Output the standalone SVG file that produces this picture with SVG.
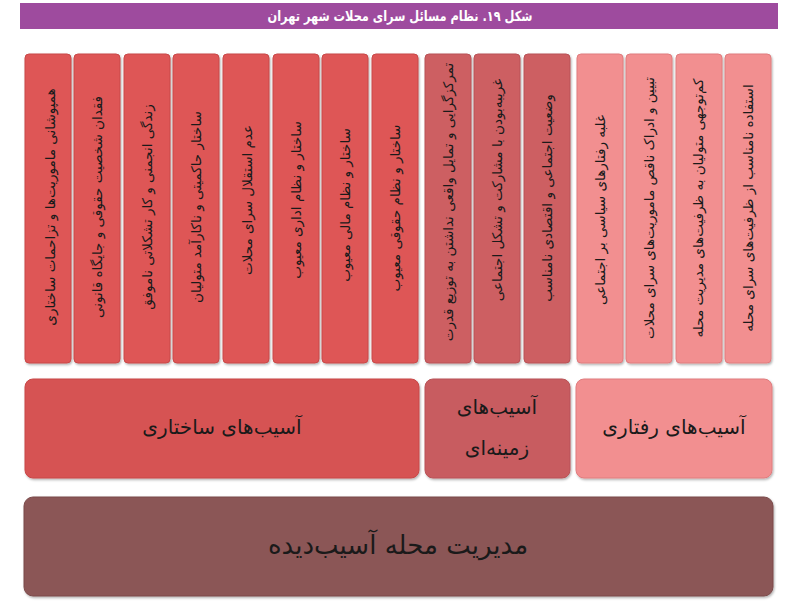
<svg xmlns="http://www.w3.org/2000/svg" width="794" height="612" viewBox="0 0 794 612">
<style>
.t{font-family:"DejaVu Sans","Noto Sans",sans-serif;fill:#1a1a1a;direction:rtl;text-anchor:middle;dominant-baseline:central}
.col{font-size:13.5px}
.big{font-size:20px}
.s{fill:#de5656;stroke:#c84848;stroke-width:1}
.c{fill:#cd5e62;stroke:#b85357;stroke-width:1}
.b{fill:#f28f90;stroke:#e07c7e;stroke-width:1}
</style>
<defs>
<filter id="sh" x="-10%" y="-10%" width="120%" height="120%">
<feDropShadow dx="1" dy="1.5" stdDeviation="1.2" flood-color="#000" flood-opacity="0.3"/>
</filter>
</defs>
<g id="title">
<rect x="20" y="3" width="758" height="26" fill="#9e4b9e"/>
<text x="400" y="16" textLength="265" lengthAdjust="spacingAndGlyphs" style="font-family:'DejaVu Sans',sans-serif;font-size:14px;font-weight:bold;fill:#fff;direction:rtl;text-anchor:middle;dominant-baseline:central">شکل ۱۹. نظام مسائل سرای محلات شهر تهران</text>
</g>

<g id="col1"><rect class="s" x="25" y="54" width="46" height="309" rx="4" filter="url(#sh)"/><text class="t col" transform="translate(50,207) rotate(-90)">همپوشانی ماموریت‌ها و تزاحمات ساختاری</text></g>
<g id="col2"><rect class="s" x="74" y="54" width="46" height="309" rx="4" filter="url(#sh)"/><text class="t col" transform="translate(97,207) rotate(-90)">فقدان شخصیت حقوقی و جایگاه قانونی</text></g>
<g id="col3"><rect class="s" x="124" y="54" width="46" height="309" rx="4" filter="url(#sh)"/><text class="t col" transform="translate(147,207) rotate(-90)">زندگی انجمنی و کار تشکلاتی ناموفق</text></g>
<g id="col4"><rect class="s" x="173" y="54" width="46" height="309" rx="4" filter="url(#sh)"/><text class="t col" transform="translate(196,207) rotate(-90)">ساختار حاکمیتی و ناکارآمد متولیان</text></g>
<g id="col5"><rect class="s" x="223" y="54" width="46" height="309" rx="4" filter="url(#sh)"/><text class="t col" transform="translate(247,200) rotate(-90)">عدم استقلال سرای محلات</text></g>
<g id="col6"><rect class="s" x="273" y="54" width="46" height="309" rx="4" filter="url(#sh)"/><text class="t col" transform="translate(296,200) rotate(-90)">ساختار و نظام اداری معیوب</text></g>
<g id="col7"><rect class="s" x="322" y="54" width="46" height="309" rx="4" filter="url(#sh)"/><text class="t col" transform="translate(345,205) rotate(-90)">ساختار و نظام مالی معیوب</text></g>
<g id="col8"><rect class="s" x="372" y="54" width="46" height="309" rx="4" filter="url(#sh)"/><text class="t col" transform="translate(395,208) rotate(-90)">ساختار و نظام حقوقی معیوب</text></g>

<g id="col9"><rect class="c" x="425" y="54" width="46" height="309" rx="4" filter="url(#sh)"/><text class="t col" transform="translate(448,202) rotate(-90)">تمرکزگرایی و تمایل واقعی نداشتن به توزیع قدرت</text></g>
<g id="col10"><rect class="c" x="474" y="54" width="46" height="309" rx="4" filter="url(#sh)"/><text class="t col" transform="translate(497,190) rotate(-90)">غریبه‌بودن با مشارکت و تشکل اجتماعی</text></g>
<g id="col11"><rect class="c" x="524" y="54" width="46" height="309" rx="4" filter="url(#sh)"/><text class="t col" transform="translate(547,198) rotate(-90)">وضعیت اجتماعی و اقتصادی نامناسب</text></g>

<g id="col12"><rect class="b" x="577" y="54" width="46" height="309" rx="4" filter="url(#sh)"/><text class="t col" transform="translate(600,210) rotate(-90)">غلبه رفتارهای سیاسی بر اجتماعی</text></g>
<g id="col13"><rect class="b" x="626" y="54" width="46" height="309" rx="4" filter="url(#sh)"/><text class="t col" transform="translate(649,208) rotate(-90)">تبیین و ادراک ناقص ماموریت‌های سرای محلات</text></g>
<g id="col14"><rect class="b" x="676" y="54" width="46" height="309" rx="4" filter="url(#sh)"/><text class="t col" transform="translate(698,208) rotate(-90)">کم‌توجهی متولیان به ظرفیت‌های مدیریت محله</text></g>
<g id="col15"><rect class="b" x="725" y="54" width="46" height="309" rx="4" filter="url(#sh)"/><text class="t col" transform="translate(748,208) rotate(-90)">استفاده نامناسب از ظرفیت‌های سرای محله</text></g>

<g id="structural"><rect class="s" x="25" y="379" width="394" height="99" rx="8" style="fill:#d65252" filter="url(#sh)"/><text class="t big" x="222" y="427">آسیب‌های ساختاری</text></g>
<g id="contextual"><rect class="c" x="425" y="379" width="145" height="99" rx="8" style="fill:#c85c60" filter="url(#sh)"/><text class="t big" x="497" y="407">آسیب‌های</text><text class="t big" x="497" y="448">زمینه‌ای</text></g>
<g id="behavioral"><rect class="b" x="576" y="379" width="196" height="99" rx="8" filter="url(#sh)"/><text class="t big" x="674" y="427">آسیب‌های رفتاری</text></g>
<g id="management"><rect x="24" y="497" width="749" height="99" rx="9" fill="#8b5656" stroke="#7a4a4a" filter="url(#sh)"/><text class="t" style="font-size:26px" x="398" y="545">مدیریت محله آسیب‌دیده</text></g>
</svg>
